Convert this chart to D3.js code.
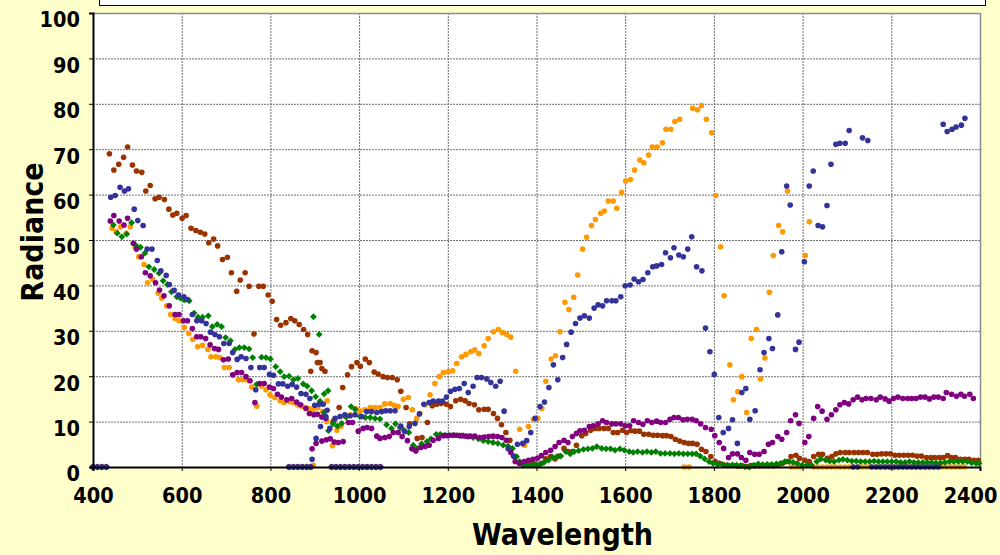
<!DOCTYPE html>
<html>
<head>
<meta charset="utf-8">
<script src="https://cdn.jsdelivr.net/npm/d3@7"></script>
<style>
  body { margin: 0; background: #FFFFCC; }
  svg { display: block; }
</style>
</head>
<body>
<div id="graph-container"></div>
<script>
// axis ticks
const xTicks = [400, 600, 800, 1000, 1200, 1400, 1600, 1800, 2000, 2200, 2400];
const yTicks = [0, 10, 20, 30, 40, 50, 60, 70, 80, 90, 100];

// detector bands where every series reads 0 (overlap edges of the two detectors)
const zeroBands = [400, 410, 420, 430, 842, 852, 862, 872, 882, 891,
  938, 948, 958, 968, 978, 988, 998, 1008, 1018, 1028, 1038, 1048];

// [wavelength, radiance]
const brownData = [
  [437,69.0],[447,65.4],[458,66.7],[469,68.2],[478,70.5],[489,66.5],[498,65.2],[510,64.9],[519,60.8],[529,62.0],
  [540,59.1],[549,59.4],[561,58.9],[571,56.8],[580,55.5],[589,55.9],[601,54.8],[610,55.4],[621,52.6],[632,52.1],
  [642,51.7],[652,51.3],[661,49.4],[672,50.2],[681,48.7],[692,45.7],[703,46.2],[712,42.8],[724,38.7],[732,41.2],
  [743,42.8],[752,39.8],[763,29.3],[774,39.8],[784,39.8],[795,37.9],[804,36.5],[814,32.5],[823,31.2],[835,31.8],
  [846,32.7],[855,32.2],[865,31.4],[875,30.3],[884,29.2],[894,25.6],[903,25.2],[912,23.0],[923,21.1],
  [891,21.1],[906,23.0],[916,21.7],[942,10.1],[955,13.1],[963,17.5],[974,20.3],[983,22.1],[995,23.0],[1003,22.2],
  [1014,23.8],[1023,23.0],[1034,20.9],[1043,20.5],[1054,19.9],[1064,19.7],[1075,19.7],[1086,19.2],[1094,16.7],[1106,13.1],
  [1114,9.5],[1122,4.0],[1131,6.3],[1142,6.5],[1154,9.8],[1165,13.5],[1175,13.8],[1185,14.0],[1197,13.8],[1206,13.3],
  [1218,14.6],[1229,14.9],[1239,14.6],[1248,14.0],[1260,13.7],[1270,12.6],[1282,12.7],[1291,12.7],[1303,11.8],[1312,10.7],
  [1321,9.3],[1331,7.6],[1340,5.9],[1350,2.3],[1361,0.8],[1371,0.6],[1381,0.7],[1391,1.0],[1401,0.4],[1411,0.8],
  [1421,1.8],[1432,2.3],[1442,1.8],[1451,2.4],[1462,4.1],[1471,3.4],[1481,3.4],[1490,4.8],[1502,6.9],[1511,7.4],
  [1522,8.1],[1532,8.5],[1541,8.5],[1552,8.5],[1562,8.5],[1573,7.6],[1583,7.6],[1594,8.1],[1603,7.6],[1613,8.0],
  [1622,7.9],[1632,7.9],[1642,7.2],[1653,7.2],[1663,7.0],[1673,7.0],[1684,6.9],[1693,6.9],[1703,6.7],[1713,6.1],
  [1723,5.7],[1733,5.4],[1743,5.2],[1752,5.2],[1762,5.0],[1772,3.9],[1782,3.4],[1793,2.3],[1803,1.2],[1812,0.8],
  [1822,0.5],[1832,0.4],[1843,0.4],[1853,0.2],[1863,0.3],[1873,0.1],[1883,0.3],[1893,0.3],[1903,0.3],[1913,0.3],
  [1923,0.3],[1934,0.3],[1945,0.4],[1955,0.8],[1965,1.2],[1974,2.3],[1985,2.6],[1993,1.9],[2005,1.5],[2015,1.2],
  [2025,2.3],[2036,2.8],[2045,2.8],[2056,1.9],[2066,2.3],[2075,2.9],[2085,3.2],[2096,3.2],[2105,3.2],[2116,3.2],
  [2126,3.2],[2136,3.2],[2146,3.2],[2158,2.8],[2168,2.8],[2178,2.9],[2188,2.9],[2198,2.9],[2208,2.6],[2218,2.6],
  [2228,2.6],[2238,2.6],[2248,2.6],[2258,2.4],[2268,2.4],[2279,2.1],[2289,2.1],[2298,2.1],[2308,2.1],[2317,2.1],
  [2327,2.5],[2336,2.1],[2345,2.1],[2356,1.7],[2366,1.7],[2375,1.7],[2386,1.5],[2396,1.5]
];

const orangeData = [
  [443,52.6],[452,51.8],[462,52.9],[475,51.5],[484,52.9],[495,48.4],[503,46.3],[515,44.6],[523,40.6],[535,41.3],
  [547,38.3],[555,37.2],[566,35.5],[575,33.6],[585,32.7],[594,32.2],[606,30.7],[616,29.4],[625,28.1],[636,26.5],
  [647,26.8],[659,25.9],[666,24.3],[677,24.3],[686,24.1],[696,21.9],[707,21.9],[716,20.3],[728,19.2],[737,19.2],
  [747,19.2],[758,17.6],[769,13.4],[780,17.8],[790,17.0],[799,15.9],[810,15.3],[822,14.6],[831,14.2],[843,14.4],
  [852,14.2],[861,13.7],[871,13.4],[880,13.1],[889,12.8],[897,12.6],[907,13.1],[918,12.2],[928,14.6],
  [897,0.4],[927,10.0],[940,4.7],[950,8.1],[959,9.0],[968,11.1],[980,11.5],[993,12.8],[1002,12.3],[1013,12.6],
  [1025,13.1],[1036,13.1],[1047,13.1],[1058,13.9],[1070,14.0],[1079,13.6],[1088,13.3],[1100,14.9],[1111,15.3],[1120,12.6],
  [1130,10.7],[1137,11.8],[1149,13.7],[1160,15.9],[1171,18.4],[1181,19.9],[1190,20.8],[1201,21.0],[1211,21.2],[1220,22.8],
  [1231,24.3],[1241,24.8],[1252,25.4],[1261,25.8],[1270,25.0],[1282,26.7],[1291,28.3],[1303,29.8],[1314,30.3],[1323,29.6],
  [1333,29.2],[1342,28.6],[1353,21.1],[1362,8.3],[1373,4.8],[1382,8.9],[1393,10.5],[1403,10.7],[1412,12.9],[1421,18.9],
  [1433,23.8],[1443,24.5],[1453,29.8],[1464,36.3],[1473,34.7],[1484,37.4],[1493,42.3],[1504,48.0],[1513,50.6],[1524,53.2],
  [1533,54.5],[1545,55.9],[1553,56.4],[1562,58.6],[1573,58.6],[1581,57.0],[1592,60.5],[1601,63.0],[1612,63.3],[1621,65.4],
  [1633,67.6],[1642,67.0],[1653,68.7],[1661,70.5],[1672,70.5],[1684,71.4],[1692,74.4],[1703,74.4],[1712,76.1],[1723,76.6],
  [1733,0],[1744,0],[1752,79.0],[1763,78.7],[1772,79.6],[1783,76.6],[1795,73.6],[1804,59.8],[1815,48.5],[1823,37.7],
  [1836,22.5],[1844,14.8],[1854,16.6],[1863,19.9],[1874,12.0],[1884,28.3],[1896,30.3],[1905,19.4],[1915,24.0],[1925,38.5],
  [1934,46.6],[1946,53.2],[1955,51.8],[1966,60.8],[1975,0],[1985,0],[1995,0],[2006,46.6],[2015,54.0],[2025,0],
  [2035,0],[2045,0],[2055,0],[2065,0],[2075,0],[2085,0],[2095,0],[2105,0],[2115,0],[2125,0],
  [2135,0],[2145,0],[2155,0],[2165,0],[2175,0],[2185,0],[2195,0],[2205,0],[2215,0],[2225,0],
  [2235,0],[2245,0],[2255,0],[2265,0],[2275,0],[2285,0],[2295,0],[2305,0],[2315,0],[2325,0],
  [2335,0],[2345,0],[2355,0],[2365,0]
];

const greenData = [
  [446,53.3],[455,51.5],[465,50.7],[476,51.3],[487,53.8],[498,48.7],[507,48.4],[517,47.1],[526,44.1],[538,43.5],
  [549,42.7],[558,41.0],[568,40.2],[577,38.6],[589,37.5],[597,37.2],[606,36.8],[617,36.6],[628,33.9],[637,33.0],
  [647,33.0],[660,33.3],[669,30.9],[680,31.4],[690,30.9],[699,28.5],[710,27.8],[720,25.9],[730,26.3],[741,26.3],
  [752,26.0],[760,24.1],[769,18.2],[780,24.2],[790,24.1],[800,23.8],[812,22.1],[822,21.0],[831,19.9],[842,20.0],
  [852,19.2],[862,19.5],[874,18.3],[883,17.8],[893,16.8],[902,15.5],[912,14.5],[921,16.1],[930,16.8],
  [897,33.1],[910,29.2],[921,12.0],[931,8.0],[941,9.5],[951,9.0],[961,9.6],[971,11.0],[982,13.3],[991,12.7],
  [1002,11.1],[1014,10.9],[1025,10.9],[1036,10.7],[1047,10.6],[1062,9.3],[1073,8.5],[1082,9.5],[1092,8.7],[1101,8.1],
  [1112,7.6],[1122,4.8],[1131,4.1],[1141,5.1],[1153,5.6],[1162,6.2],[1174,7.2],[1183,7.2],[1194,7.0],[1203,7.0],
  [1214,7.0],[1226,6.9],[1235,6.9],[1246,6.7],[1257,6.5],[1269,6.2],[1280,5.8],[1291,5.6],[1302,5.4],[1313,5.2],
  [1325,4.8],[1336,4.6],[1346,4.1],[1355,2.3],[1362,1.2],[1370,0.4],[1380,0.4],[1390,0.4],[1399,0.6],[1408,0.6],
  [1417,1.0],[1427,1.5],[1437,2.1],[1446,2.3],[1455,2.4],[1466,3.4],[1476,2.9],[1485,3.4],[1495,3.6],[1506,3.9],
  [1516,4.0],[1526,4.1],[1536,4.5],[1547,4.1],[1557,4.0],[1567,4.0],[1577,3.7],[1588,4.0],[1598,3.7],[1609,3.4],
  [1618,3.2],[1628,3.4],[1639,3.2],[1649,3.4],[1659,3.2],[1669,3.4],[1680,3.0],[1690,3.0],[1701,3.0],[1711,2.9],
  [1721,3.0],[1731,2.9],[1741,2.9],[1751,2.9],[1760,2.9],[1769,2.4],[1779,1.8],[1789,1.2],[1798,0.8],[1808,0.6],
  [1819,0.6],[1830,0.4],[1841,0.4],[1851,0.4],[1860,0.3],[1870,0.1],[1880,0.0],[1890,0.4],[1900,0.7],[1910,0.5],
  [1920,0.6],[1930,0.6],[1941,0.7],[1950,0.8],[1960,1.2],[1970,1.2],[1979,1.0],[1988,0.8],[1999,0.4],[2010,0.4],
  [2020,0.4],[2032,1.2],[2041,1.8],[2052,1.5],[2061,1.3],[2071,1.2],[2082,1.5],[2091,1.7],[2101,1.5],[2111,1.3],
  [2121,1.3],[2131,1.2],[2141,1.2],[2151,1.2],[2161,1.3],[2171,1.2],[2181,1.2],[2191,1.2],[2201,1.2],[2211,1.2],
  [2221,1.0],[2231,1.0],[2241,1.2],[2251,1.0],[2261,1.0],[2271,1.0],[2281,1.0],[2291,1.0],[2301,0.9],[2311,0.9],
  [2321,1.0],[2331,1.2],[2341,1.2],[2351,1.2],[2361,1.2],[2371,1.2],[2381,0.9],[2391,0.8],[2398,0.8]
];

const purpleData = [
  [439,54.2],[447,55.4],[459,54.2],[470,53.3],[478,54.8],[491,49.3],[498,48.0],[509,46.3],[518,42.8],[529,42.1],
  [541,40.6],[550,39.0],[560,37.7],[572,35.5],[585,33.6],[594,33.6],[604,32.2],[613,32.2],[624,30.5],[634,28.7],
  [643,28.7],[654,28.3],[664,26.9],[674,26.1],[683,25.9],[694,23.6],[705,23.8],[715,20.3],[725,20.8],[735,20.8],
  [745,19.9],[754,19.0],[765,14.2],[776,18.4],[786,18.4],[798,17.6],[807,17.3],[816,16.0],[825,15.4],[837,14.8],
  [848,15.1],[859,14.3],[868,13.7],[880,12.9],[888,11.8],[898,11.5],[906,11.6],[916,11.0],[925,10.7],
  [894,4.0],[903,5.2],[916,5.7],[926,6.0],[935,6.2],[944,5.5],[953,5.4],[964,5.6],[976,9.8],[985,9.8],
  [998,7.9],[1009,8.5],[1018,8.7],[1028,8.5],[1040,6.8],[1047,6.3],[1058,6.5],[1068,6.7],[1077,7.6],[1088,7.6],
  [1097,6.7],[1109,5.8],[1119,4.0],[1128,3.5],[1139,4.3],[1149,4.5],[1158,4.8],[1167,5.9],[1179,6.3],[1190,6.9],
  [1200,6.9],[1210,7.0],[1220,7.0],[1231,6.9],[1241,6.8],[1251,6.8],[1261,6.8],[1272,6.5],[1282,6.6],[1292,6.7],
  [1302,6.8],[1312,6.7],[1322,6.5],[1332,5.9],[1342,3.2],[1352,1.2],[1362,0.8],[1372,1.2],[1382,1.5],[1392,1.7],
  [1402,1.9],[1411,2.5],[1421,3.2],[1432,3.7],[1442,4.5],[1451,5.4],[1462,5.9],[1471,5.4],[1481,6.7],[1490,7.4],
  [1498,8.0],[1508,8.1],[1519,8.9],[1528,9.1],[1539,9.5],[1549,10.2],[1558,9.8],[1570,9.5],[1579,9.5],[1590,9.5],
  [1600,9.1],[1610,9.1],[1619,10.2],[1630,9.8],[1640,9.4],[1650,10.2],[1660,9.8],[1671,10.1],[1680,9.8],[1691,9.8],
  [1701,10.5],[1710,10.9],[1720,10.9],[1730,10.4],[1740,10.5],[1751,10.5],[1760,10.2],[1770,9.5],[1781,8.7],[1794,8.3],
  [1802,6.9],[1812,5.4],[1822,4.1],[1833,2.1],[1842,2.9],[1853,2.9],[1862,2.1],[1872,1.5],[1881,3.2],[1892,2.8],
  [1902,2.8],[1913,3.4],[1923,5.0],[1932,5.4],[1944,6.7],[1953,6.1],[1964,7.6],[1973,10.2],[1984,11.5],[1992,9.6],
  [2005,5.4],[2014,6.7],[2025,10.7],[2034,13.3],[2044,12.3],[2055,10.5],[2065,11.5],[2075,12.6],[2084,13.7],[2094,14.2],
  [2104,13.9],[2114,14.8],[2124,15.4],[2134,14.8],[2143,15.1],[2154,15.1],[2166,14.8],[2175,15.4],[2186,15.0],[2195,14.5],
  [2205,15.1],[2215,15.4],[2226,15.1],[2237,15.1],[2246,15.1],[2256,15.1],[2266,15.4],[2276,15.4],[2286,15.0],[2296,15.4],
  [2306,15.4],[2317,15.1],[2324,16.4],[2336,16.0],[2347,15.6],[2357,16.0],[2365,15.6],[2377,16.0],[2385,15.1]
];

const blueData = [
  [440,59.4],[450,59.8],[461,61.6],[471,60.8],[480,61.3],[493,56.8],[501,54.3],[513,53.2],[522,48.0],[533,48.0],
  [545,45.5],[553,43.2],[565,42.2],[572,40.2],[583,38.9],[593,37.9],[605,37.5],[613,36.9],[624,33.6],[634,32.2],
  [645,32.2],[655,31.6],[665,29.7],[675,29.2],[685,28.7],[695,27.2],[707,27.2],[715,25.2],[725,23.7],[734,24.3],
  [745,23.9],[756,21.9],[767,17.0],[776,21.9],[786,21.9],[798,20.4],[807,20.2],[818,18.3],[828,18.3],[839,17.8],
  [849,18.2],[859,17.6],[869,16.2],[880,16.0],[889,15.1],[900,13.6],[910,13.8],[919,13.8],[928,12.5],
  [894,1.7],[903,6.3],[913,8.9],[925,11.1],[934,8.5],[946,10.7],[957,11.1],[968,11.5],[980,11.3],[991,11.5],
  [1006,11.1],[1017,12.2],[1028,12.2],[1040,12.0],[1051,12.2],[1060,12.4],[1070,12.4],[1081,12.4],[1094,9.0],[1103,7.8],
  [1113,8.9],[1126,9.6],[1136,11.7],[1146,13.8],[1158,14.2],[1167,14.5],[1179,14.5],[1188,14.5],[1197,15.4],[1206,16.7],
  [1216,17.1],[1226,17.3],[1237,18.4],[1246,16.4],[1257,17.8],[1266,19.7],[1276,19.7],[1288,19.4],[1297,18.6],[1308,17.8],
  [1318,18.9],[1327,12.3],[1336,4.0],[1348,2.4],[1357,5.0],[1369,5.2],[1378,5.8],[1387,7.6],[1397,10.7],[1408,13.3],
  [1418,14.3],[1428,17.5],[1438,22.5],[1448,19.2],[1459,24.1],[1468,27.0],[1478,29.7],[1488,31.6],[1498,32.8],[1508,33.3],
  [1519,32.8],[1530,35.0],[1539,35.7],[1549,35.5],[1558,36.6],[1570,36.6],[1579,36.6],[1590,37.5],[1600,39.9],[1611,40.1],
  [1620,41.4],[1630,40.8],[1640,41.3],[1651,42.8],[1662,44.1],[1671,44.3],[1682,44.6],[1691,47.2],[1702,46.1],[1710,48.3],
  [1721,46.7],[1731,46.3],[1741,48.0],[1750,50.7],[1761,44.1],[1773,43.2],[1781,30.6],[1791,25.4],[1801,20.4],[1811,10.9],
  [1821,7.6],[1833,8.5],[1842,10.4],[1853,5.2],[1863,16.4],[1872,17.3],[1881,10.5],[1893,12.4],[1904,21.4],[1913,25.2],
  [1924,28.3],[1932,26.1],[1944,33.5],[1953,47.4],[1964,61.9],[1972,57.7],[1984,25.9],[1992,27.5],[2004,45.2],[2015,61.9],
  [2024,65.2],[2035,53.2],[2045,52.9],[2055,57.6],[2064,66.7],[2075,71.1],[2084,71.3],[2096,71.3],[2105,74.1],[2114,0],
  [2124,0],[2135,72.5],[2147,71.9],[2156,0],[2166,0],[2176,0],[2186,0],[2196,0],[2206,0],[2216,0],
  [2226,0],[2236,0],[2246,0],[2256,0],[2266,0],[2276,0],[2286,0],[2296,0],[2306,0],[2317,75.5],
  [2326,73.9],[2337,74.4],[2346,74.9],[2358,75.3],[2366,76.8]
];

const seriesList = [
  { name: "brown", color: "#993300", shape: "circle", data: brownData },
  { name: "orange", color: "#FF9900", shape: "circle", data: orangeData },
  { name: "green", color: "#008000", shape: "diamond", data: greenData },
  { name: "purple", color: "#800080", shape: "circle", data: purpleData },
  { name: "blue", color: "#333399", shape: "circle", data: blueData }
];

const fontFamily = "'DejaVu Sans Condensed', 'DejaVu Sans', sans-serif";

let margin = {top: 13, right: 20, bottom: 88, left: 93},
  width = 1000 - margin.left - margin.right,
  height = 555 - margin.top - margin.bottom;

let root = d3.select("#graph-container")
  .append("svg")
  .attr("width", 1000)
  .attr("height", 555);

root.append("rect")
  .attr("width", 1000).attr("height", 555)
  .attr("fill", "#FFFFCC");

// legend box, cut off at the top of the picture
root.append("rect")
  .attr("x", 99.5).attr("y", -10)
  .attr("width", 886).attr("height", 15.5)
  .attr("fill", "#ffffff")
  .attr("stroke", "#000000")
  .attr("stroke-width", 1);

let svg = root.append("g")
  .attr("transform", "translate(" + margin.left + "," + margin.top + ")");

let x = d3.scaleLinear().domain([400, 2400]).range([0, width]);
let y = d3.scaleLinear().domain([0, 100]).range([height, 0]);

svg.append("rect")
  .attr("width", width).attr("height", height)
  .attr("fill", "#ffffff");

// grid
svg.append("g")
  .selectAll("line")
  .data(yTicks.filter(d => d > 0))
  .enter()
  .append("line")
    .attr("x1", 0).attr("x2", width)
    .attr("y1", d => y(d) + 0.5).attr("y2", d => y(d) + 0.5)
    .attr("stroke", "#6e6e6e")
    .attr("stroke-dasharray", "2,1");

svg.append("g")
  .selectAll("line")
  .data(xTicks.filter(d => d > 400))
  .enter()
  .append("line")
    .attr("x1", d => x(d) + 0.5).attr("x2", d => x(d) + 0.5)
    .attr("y1", 0).attr("y2", height)
    .attr("stroke", "#6e6e6e")
    .attr("stroke-dasharray", "2,1");

// plot border top / right
svg.append("path")
  .attr("d", "M0,0.5H" + (width + 0.5) + "V" + height)
  .attr("fill", "none")
  .attr("stroke", "#8c8c8c")
  .attr("stroke-width", 1.5);

// points: zero bands first, then each series
let diamond = "M0,-3.4L3.4,0L0,3.4L-3.4,0Z";

seriesList.forEach(s => {
  let pts = zeroBands.map(w => [w, 0]).concat(s.data)
    .filter(d => d[1] != null && d[1] <= 100);
  let g = svg.append("g").attr("class", "series-" + s.name);
  if (s.shape === "diamond") {
    g.selectAll("path")
      .data(pts)
      .enter()
      .append("path")
        .attr("d", diamond)
        .attr("transform", d => "translate(" + x(d[0]) + "," + y(d[1]) + ")")
        .attr("fill", s.color);
  } else {
    g.selectAll("circle")
      .data(pts)
      .enter()
      .append("circle")
        .attr("cx", d => x(d[0]))
        .attr("cy", d => y(d[1]))
        .attr("r", 2.8)
        .attr("fill", s.color);
  }
});

// axes
let xAxis = svg.append("g")
  .attr("transform", "translate(0," + height + ")")
  .call(d3.axisBottom(x).tickValues(xTicks).tickSize(4).tickFormat(d3.format("d")));

let yAxis = svg.append("g")
  .call(d3.axisLeft(y).tickValues(yTicks).tickSize(4));

[xAxis, yAxis].forEach(a => {
  a.select(".domain").attr("stroke", "#000").attr("stroke-width", 2);
  a.selectAll(".tick line").attr("stroke", "#000");
  a.selectAll(".tick text")
    .attr("font-family", fontFamily)
    .attr("font-weight", "bold")
    .attr("font-size", 21.5)
    .attr("fill", "#000");
});

xAxis.selectAll(".tick text").attr("dy", null).attr("y", 36);
// last label kept inside the picture
xAxis.selectAll(".tick text")
  .filter(d => d === 2400)
  .attr("text-anchor", "end")
  .attr("x", 17);
yAxis.selectAll(".tick text").attr("x", -13).attr("dy", "0.32em")
  .attr("transform", "translate(0,7)");

// titles
svg.append("text")
  .attr("x", width / 2 + 26)
  .attr("y", height + 78)
  .attr("text-anchor", "middle")
  .attr("font-family", fontFamily)
  .attr("font-weight", "bold")
  .attr("font-size", 30)
  .text("Wavelength");

svg.append("text")
  .attr("transform", "translate(" + (-50) + "," + (height / 2 - 8) + ") rotate(-90)")
  .attr("text-anchor", "middle")
  .attr("font-family", fontFamily)
  .attr("font-weight", "bold")
  .attr("font-size", 30)
  .text("Radiance");
</script>
</body>
</html>
